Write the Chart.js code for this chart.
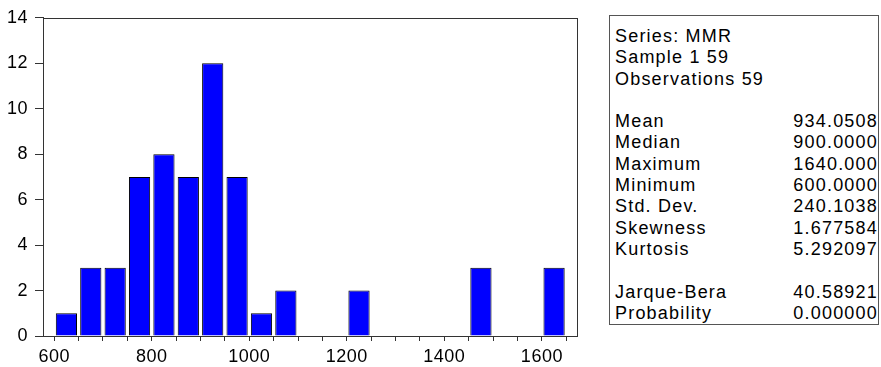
<!DOCTYPE html>
<html lang="en">
<head>
<meta charset="UTF-8">
<title>Histogram MMR</title>
<script src="https://cdn.jsdelivr.net/npm/chart.js"></script>
<style>
  html, body { margin: 0; padding: 0; background: #fff; }
  body { width: 881px; height: 367px; position: relative; overflow: hidden; font-family: "Liberation Sans", Arial, sans-serif; }
  #wrap { position: absolute; left: 0; top: 0; width: 600px; height: 367px; }
  #stats {
    position: absolute; left: 609px; top: 15px; width: 268px; height: 308px;
    border: 1px solid #555;
    font-size: 18px; line-height: 21.3px; color: #000; letter-spacing: 1.2px;
  }
  #stats .inner { padding: 10px 0 0 5px; }
  #stats .row { display: flex; justify-content: space-between; height: 21.3px; white-space: nowrap; }
</style>
</head>
<body>
<div id="wrap"><canvas id="hist"></canvas></div>
<div id="stats"><div class="inner" id="statsInner"></div></div>

<script>
// histogram bins (lower edge) and counts, bin width 50
const binStarts = [600, 650, 700, 750, 800, 850, 900, 950, 1000, 1050, 1200, 1450, 1600];
const counts    = [1, 3, 3, 7, 8, 7, 12, 7, 1, 2, 2, 3, 3];
const binWidth = 50;

const yTicks = [0, 2, 4, 6, 8, 10, 12, 14];
const xLabels = [600, 800, 1000, 1200, 1400, 1600];

// summary statistics panel
const headerLines = ['Series: MMR', 'Sample 1 59', 'Observations 59'];
const statNames  = ['Mean', 'Median', 'Maximum', 'Minimum', 'Std. Dev.', 'Skewness', 'Kurtosis'];
const statValues = ['934.0508', '900.0000', '1640.000', '600.0000', '240.1038', '1.677584', '5.292097'];
const testNames  = ['Jarque-Bera', 'Probability'];
const testValues = ['40.58921', '0.000000'];

// build stats box
const inner = document.getElementById('statsInner');
function addRow(left, right) {
  const row = document.createElement('div');
  row.className = 'row';
  const a = document.createElement('span'); a.textContent = left;
  const b = document.createElement('span'); b.textContent = right || '';
  row.appendChild(a); row.appendChild(b);
  inner.appendChild(row);
}
headerLines.forEach(l => addRow(l));
addRow('\u00a0');
statNames.forEach((n, i) => addRow(n, statValues[i]));
addRow('\u00a0');
testNames.forEach((n, i) => addRow(n, testValues[i]));

// frame around plot area + slight letter spacing on tick labels
const framePlugin = {
  id: 'frame',
  beforeDraw(chart) { chart.ctx.letterSpacing = '0.5px'; },
  afterDraw(chart) {
    const a = chart.chartArea, ctx = chart.ctx;
    ctx.save();
    ctx.strokeStyle = '#333';
    ctx.lineWidth = 1;
    ctx.strokeRect(Math.round(a.left) + 0.5, Math.round(a.top) + 0.5,
                   Math.round(a.right - a.left), Math.round(a.bottom - a.top));
    ctx.restore();
  }
};

const points = binStarts.map((s, i) => ({ x: s + binWidth / 2, y: counts[i] }));
const tickFont = { family: '"Liberation Sans", Arial, sans-serif', size: 18 };

new Chart(document.getElementById('hist'), {
  type: 'bar',
  data: {
    datasets: [{
      data: points,
      backgroundColor: '#0000FF',
      borderColor: '#000',
      borderWidth: 1,
      barPercentage: 0.87,
      categoryPercentage: 1.0
    }]
  },
  options: {
    responsive: true,
    maintainAspectRatio: false,
    animation: false,
    layout: { padding: { left: 0, right: 23, top: 15, bottom: 0 } },
    plugins: { legend: { display: false }, tooltip: { enabled: false } },
    scales: {
      x: {
        type: 'linear',
        offset: false,
        min: 577,
        max: 1672,
        grid: { offset: false, drawOnChartArea: false, drawTicks: true, tickLength: 5, color: '#333' },
        border: { color: '#333' },
        afterBuildTicks(scale) {
          const t = [];
          for (let v = 600; v <= 1650; v += binWidth) t.push({ value: v });
          scale.ticks = t;
        },
        afterFit(scale) { scale.height = 31; },
        ticks: {
          autoSkip: false,
          maxRotation: 0,
          padding: 5,
          color: '#000',
          font: tickFont,
          callback: v => xLabels.includes(v) ? String(v) : ''
        }
      },
      y: {
        min: 0,
        max: 14,
        grid: { drawOnChartArea: false, drawTicks: true, tickLength: 8, color: '#333' },
        border: { color: '#333' },
        afterBuildTicks(scale) { scale.ticks = yTicks.map(v => ({ value: v })); },
        afterFit(scale) { scale.width = 43; },
        ticks: {
          padding: 7,
          color: '#000',
          font: tickFont
        }
      }
    }
  },
  plugins: [framePlugin]
});
</script>
</body>
</html>
